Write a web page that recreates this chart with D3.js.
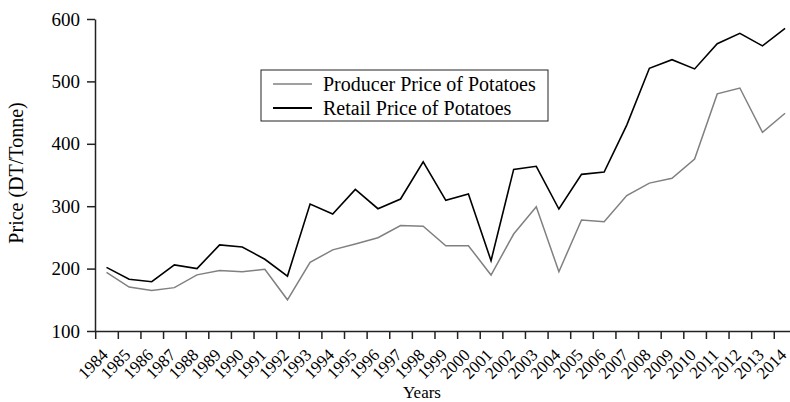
<!DOCTYPE html>
<html>
<head>
<meta charset="utf-8">
<script src="https://cdn.jsdelivr.net/npm/d3@7"></script>
<style>
  html, body { margin: 0; padding: 0; background: #fff; }
  svg { display: block; font-family: "Liberation Serif", "Times New Roman", serif; }
</style>
</head>
<body>
<svg id="chart" width="790" height="402"></svg>
<script>
// Potato prices, DT/Tonne
const years = [1984, 1985, 1986, 1987, 1988, 1989, 1990, 1991, 1992, 1993,
  1994, 1995, 1996, 1997, 1998, 1999, 2000, 2001, 2002, 2003, 2004, 2005,
  2006, 2007, 2008, 2009, 2010, 2011, 2012, 2013, 2014];
const producer = [194, 170.5, 165, 169.5, 190, 197, 195, 199, 150, 210,
  230, 239.5, 249.5, 269, 268, 236.7, 236.7, 189.7, 255.4, 299.2, 195, 278,
  275, 317, 337, 344.7, 375.6, 480, 489.4, 418.4, 449];
const retail = [202, 183, 179, 206, 200, 238, 234.6, 215, 188, 303.5,
  287.5, 327, 296, 311.5, 371, 309.4, 319.6, 212.7, 359, 364, 295.5, 351,
  354.8, 430, 521, 534.8, 520, 560.5, 577, 557, 585];
const yTicks = [100, 200, 300, 400, 500, 600];
const seriesNames = ['Producer Price of Potatoes', 'Retail Price of Potatoes'];

const svg = d3.select('#chart');
const plot = { left: 95.2, right: 796.4, top: 19, bottom: 331 };

const x = d3.scaleBand().domain(years).range([plot.left, plot.right]);
const xIdx = d3.scaleLinear().domain([0, years.length]).range([plot.left, plot.right]);
const y = d3.scaleLinear().domain([100, 600]).range([plot.bottom, plot.top]);

const line = d3.line()
  .x((d, i) => x(years[i]) + x.bandwidth() / 2)
  .y((d) => y(d));

// Lines
svg.append('path')
  .datum(producer)
  .attr('fill', 'none')
  .attr('stroke', '#808080')
  .attr('stroke-width', 1.5)
  .attr('d', line);

svg.append('path')
  .datum(retail)
  .attr('fill', 'none')
  .attr('stroke', '#000')
  .attr('stroke-width', 1.6)
  .attr('d', line);

// X tick marks at band edges
const xTickAxis = svg.append('g')
  .attr('transform', `translate(0,${plot.bottom})`)
  .call(d3.axisBottom(xIdx)
    .tickValues(d3.range(0, years.length + 1))
    .tickSize(8)
    .tickSizeOuter(0)
    .tickFormat(''));
xTickAxis.selectAll('line, path').attr('stroke', '#222').attr('stroke-width', 1.5);

// X labels at band centers
const xLabelAxis = svg.append('g')
  .attr('transform', `translate(0,${plot.bottom})`)
  .call(d3.axisBottom(x).tickSize(0).tickSizeOuter(0));
xLabelAxis.select('.domain').remove();
xLabelAxis.selectAll('text')
  .attr('font-family', '"Liberation Serif", serif')
  .attr('font-size', 17)
  .attr('fill', '#000')
  .attr('text-anchor', 'end')
  .attr('y', 0)
  .attr('dy', 0)
  .attr('transform', 'translate(2.5,25) rotate(-45)');

// Y axis
const yAxis = svg.append('g')
  .attr('transform', `translate(${plot.left - 0.2},0)`)
  .call(d3.axisLeft(y)
    .tickValues(yTicks)
    .tickSize(8)
    .tickSizeOuter(0)
    .tickPadding(7));
yAxis.selectAll('line, path').attr('stroke', '#222').attr('stroke-width', 1.5);
yAxis.selectAll('text')
  .attr('font-family', '"Liberation Serif", serif')
  .attr('font-size', 19)
  .attr('fill', '#000');

// Axis titles
svg.append('text')
  .attr('x', 422)
  .attr('y', 398)
  .attr('text-anchor', 'middle')
  .attr('font-size', 17)
  .text('Years');

svg.append('text')
  .attr('transform', 'translate(23,173) rotate(-90)')
  .attr('text-anchor', 'middle')
  .attr('font-size', 20)
  .text('Price (DT/Tonne)');

// Legend
const legend = svg.append('g');
legend.append('rect')
  .attr('x', 261)
  .attr('y', 70)
  .attr('width', 287)
  .attr('height', 51)
  .attr('fill', '#fff')
  .attr('stroke', '#222')
  .attr('stroke-width', 1);

const legendColors = ['#808080', '#000'];
const legendY = [84, 108];
seriesNames.forEach((name, i) => {
  legend.append('line')
    .attr('x1', 273)
    .attr('x2', 312)
    .attr('y1', legendY[i])
    .attr('y2', legendY[i])
    .attr('stroke', legendColors[i])
    .attr('stroke-width', i === 0 ? 1.5 : 1.8);
  legend.append('text')
    .attr('x', 323)
    .attr('y', legendY[i] + 7)
    .attr('font-size', 20)
    .text(name);
});
</script>
</body>
</html>
